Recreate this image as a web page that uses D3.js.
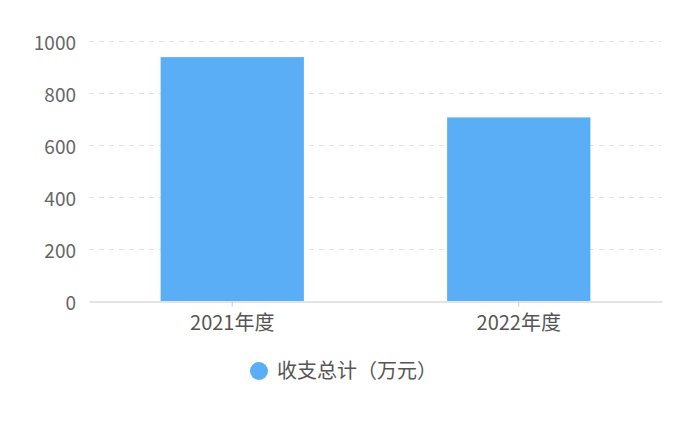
<!DOCTYPE html>
<html><head><meta charset="utf-8">
<script src="https://cdn.jsdelivr.net/npm/d3@7"></script>
<style>body{margin:0;background:#fff;}svg{display:block;}</style>
</head><body><svg id="c" width="696" height="421"></svg>
<script>
const categories = ["2021年度", "2022年度"];
const values = [938, 706];
const yTicks = [0, 200, 400, 600, 800, 1000];
const seriesName = "收支总计（万元）";

const FONT = '"Noto Sans CJK SC","Noto Sans",sans-serif';
const FS = 20;
const svg = d3.select("#c");
const m = {l: 89, r: 662, t: 41, b: 301};
const x = d3.scaleBand().domain(categories).range([m.l, m.r]).paddingInner(0).paddingOuter(0);
const y = d3.scaleLinear().domain([0, 1000]).range([m.b, m.t]);
const color = "#5aaef5";

// grid
svg.append("g").selectAll("line").data(yTicks.filter(d => d > 0)).join("line")
  .attr("x1", m.l).attr("x2", m.r)
  .attr("y1", d => y(d) + 0.5).attr("y2", d => y(d) + 0.5)
  .attr("stroke", "#e2e2e2").attr("stroke-width", 1).attr("stroke-dasharray", "5,5");

// bars
const bw = x.bandwidth() * 0.5;
svg.append("g").selectAll("rect").data(categories).join("rect")
  .attr("x", d => x(d) + (x.bandwidth() - bw) / 2)
  .attr("width", bw)
  .attr("y", (d, i) => y(values[i]))
  .attr("height", (d, i) => y(0) - y(values[i]))
  .attr("fill", color);

// y axis labels
const ya = svg.append("g").attr("transform", `translate(${m.l},0)`)
  .call(d3.axisLeft(y).tickValues(yTicks).tickFormat(d3.format("d")).tickSize(0).tickPadding(13));
ya.select(".domain").remove();
ya.attr("font-family", FONT).attr("font-size", 19);
ya.selectAll("text").attr("fill", "#666").attr("dy", "0.45em");

// x axis
const xa = svg.append("g").attr("transform", `translate(0,${m.b + 0.5})`)
  .call(d3.axisBottom(x).tickSize(5).tickPadding(9).tickSizeOuter(0));
xa.attr("font-family", FONT).attr("font-size", FS);
xa.select(".domain").attr("stroke", "#c8c8c8");
xa.selectAll(".tick line").attr("stroke", "#c8c8c8");
xa.selectAll("text").attr("fill", "#555");

// legend
const lg = svg.append("g").attr("font-family", FONT).attr("font-size", FS);
lg.append("circle").attr("cx", 259).attr("cy", 371).attr("r", 9).attr("fill", color);
lg.append("text").attr("x", 277).attr("y", 371).attr("dy", "0.35em")
  .attr("fill", "#555").text(seriesName);
</script></body></html>
